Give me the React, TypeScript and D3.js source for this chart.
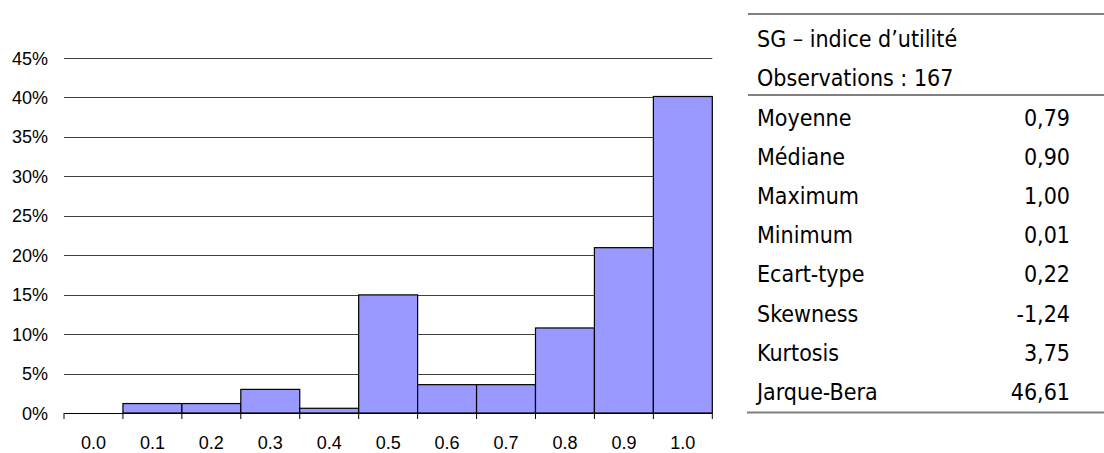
import React from "react";
import * as d3 from "d3";

// Histogram of the SG utility index: counts per bin out of all observations.
const binLabels = ["0.0", "0.1", "0.2", "0.3", "0.4", "0.5", "0.6", "0.7", "0.8", "0.9", "1.0"];
const binCounts = [0, 2, 2, 5, 1, 25, 6, 6, 18, 35, 67];
const totalObservations = 167;
const yTicks = [0, 5, 10, 15, 20, 25, 30, 35, 40, 45];

// Summary statistics table.
const tableTitle = "SG – indice d’utilité";
const tableObs = "Observations : 167";
const statNames = ["Moyenne", "Médiane", "Maximum", "Minimum", "Ecart-type", "Skewness", "Kurtosis", "Jarque-Bera"];
const statValues = ["0,79", "0,90", "1,00", "0,01", "0,22", "-1,24", "3,75", "46,61"];

const W = 1104;
const H = 453;
const plot = { left: 64, right: 712.3, top: 58, bottom: 413 };

const axisFont = "'Liberation Sans', Arial, sans-serif";
const tableFont = "'DejaVu Sans Condensed', 'DejaVu Sans', sans-serif";
const tableSize = 23;

export default function App() {
  const x = d3.scaleBand<string>().domain(binLabels).range([plot.left, plot.right]).padding(0);
  const y = d3.scaleLinear().domain([0, 45]).range([plot.bottom, plot.top]);
  const pct = binCounts.map((c) => (c / totalObservations) * 100);
  const bw = x.bandwidth();
  const boundaries = [...binLabels.map((l) => x(l) as number), plot.right];

  const rowY = d3.scaleLinear().domain([0, 1]).range([125.5, 164.7]);

  return (
    <svg width={W} height={H} style={{ position: "absolute", left: 0, top: 0, background: "#fff" }}>
      {/* gridlines */}
      {yTicks.slice(1).map((t) => (
        <line key={t} x1={plot.left} x2={plot.right} y1={Math.round(y(t)) + 0.5} y2={Math.round(y(t)) + 0.5} stroke="#404040" strokeWidth={1} />
      ))}
      {/* y labels */}
      {yTicks.map((t) => (
        <text key={t} x={48} y={y(t) + 6.5} textAnchor="end" fontFamily={axisFont} fontSize={18} fill="#000">
          {t}%
        </text>
      ))}
      {/* bars */}
      {pct.map((v, i) =>
        v > 0 ? (
          <rect
            key={i}
            x={x(binLabels[i]) as number}
            y={y(v)}
            width={bw}
            height={y(0) - y(v)}
            fill="#9999ff"
            stroke="#000"
            strokeWidth={1.2}
          />
        ) : null
      )}
      {/* x axis */}
      <line x1={plot.left} x2={plot.right} y1={plot.bottom + 0.5} y2={plot.bottom + 0.5} stroke="#000" strokeWidth={1} />
      {boundaries.map((b, i) => (
        <line key={i} x1={b} x2={b} y1={plot.bottom} y2={plot.bottom + 6} stroke="#000" strokeWidth={1} />
      ))}
      {binLabels.map((l) => (
        <text key={l} x={(x(l) as number) + bw / 2} y={449} textAnchor="middle" fontFamily={axisFont} fontSize={18} fill="#000">
          {l}
        </text>
      ))}

      {/* statistics table */}
      <line x1={748} x2={W} y1={14} y2={14} stroke="#808080" strokeWidth={2} />
      <line x1={748} x2={W} y1={95} y2={95} stroke="#808080" strokeWidth={2} />
      <line x1={747} x2={W} y1={412.5} y2={412.5} stroke="#808080" strokeWidth={2} />
      <text x={757} y={47} fontFamily={tableFont} fontSize={tableSize} fill="#000">{tableTitle}</text>
      <text x={757} y={86} fontFamily={tableFont} fontSize={tableSize} fill="#000">{tableObs}</text>
      {statNames.map((n, i) => (
        <g key={n}>
          <text x={757} y={rowY(i)} fontFamily={tableFont} fontSize={tableSize} fill="#000">{n}</text>
          <text x={1070} y={rowY(i)} textAnchor="end" fontFamily={tableFont} fontSize={tableSize} fill="#000">{statValues[i]}</text>
        </g>
      ))}
    </svg>
  );
}
